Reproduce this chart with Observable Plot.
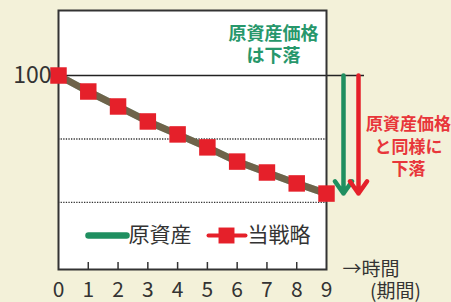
<!DOCTYPE html>
<html><head><meta charset="utf-8">
<script src="https://cdn.jsdelivr.net/npm/d3@7"></script>
<script src="https://cdn.jsdelivr.net/npm/@observablehq/plot@0.6"></script>
<style>
html,body{margin:0;padding:0;background:#f3f1d9;}
#chart svg{display:block}
</style></head><body><div id="chart"></div>
<script>
const periods = [0, 1, 2, 3, 4, 5, 6, 7, 8, 9];
const assetValues = [100, 93.7, 87.8, 81.9, 76.8, 71.7, 66.1, 61.8, 57.5, 53.5];
const strategyValues = [100, 93.7, 87.8, 81.9, 76.8, 71.7, 66.1, 61.8, 57.5, 53.5];
const refLevel = 100;
const gridLevels = [75, 50];
const xTickLabels = ["0", "1", "2", "3", "4", "5", "6", "7", "8", "9"];
const yTickLabels = ["100"];
const legendLabels = ["原資産", "当戦略"];
const assetNote = "原資産価格\nは下落";
const strategyNote = "原資産価格\nと同様に\n下落";
const timeLabel = "→時間";
const periodLabel = "(期間)";

const GREEN = "#1f8f60", RED = "#e5202a", GREEN_TXT = "#27976b", RED_TXT = "#e8363a", INK = "#333";
const FONT = "'Noto Sans CJK JP', 'Noto Sans', sans-serif";
const Y0 = 23.6, Y1 = 125.6;
const PXY = 259 / (Y1 - Y0);   // pixels per y unit
const PXX = 268 / 9;           // pixels per x unit

const asset = periods.map((p, i) => ({x: p, y: assetValues[i]}));
const strategy = periods.map((p, i) => ({x: p, y: strategyValues[i]}));
const lastVal = strategyValues[strategyValues.length - 1];
const legY = refLevel - (235 - 75) / PXY;
const px = (p) => (p - 58) / PXX;   // pixel position -> x data position for annotations
const T = {fontFamily: FONT, lineAnchor: "middle"};

const plot = Plot.plot({
  width: 451, height: 302,
  marginLeft: 58, marginRight: 125, marginTop: 10, marginBottom: 33,
  style: {background: "transparent", fontFamily: FONT, overflow: "visible"},
  x: {domain: [0, 9], axis: null},
  y: {domain: [Y0, Y1], axis: null},
  marks: [
    Plot.frame({fill: "white", stroke: null}),
    Plot.ruleY(gridLevels, {x1: 0, x2: 9, stroke: INK, strokeWidth: 1.3, strokeDasharray: "1.3,1.3"}),
    Plot.ruleY([refLevel], {x1: 0, x2: px(364), stroke: "#222", strokeWidth: 1.6}),
    Plot.ruleX(periods.slice(1, -1), {x: d => d, y1: Y0, y2: Y0 + 7 / PXY, stroke: INK, strokeWidth: 1.5}),
    Plot.frame({stroke: "#333", strokeWidth: 2}),
    Plot.line(asset, {x: "x", y: "y", stroke: GREEN, strokeWidth: 7}),
    Plot.line(strategy, {x: "x", y: "y", stroke: RED, strokeWidth: 7, strokeOpacity: 0.4}),
    Plot.dot(strategy, {x: "x", y: "y", symbol: "square", r: 9.3, fill: RED, stroke: null}),
    // arrows
    Plot.arrow([0], {x1: px(343), x2: px(343), y1: refLevel, y2: lastVal, stroke: GREEN, strokeWidth: 4.5, headLength: 5, headAngle: 70}),
    Plot.arrow([0], {x1: px(358), x2: px(358), y1: refLevel, y2: lastVal, stroke: RED, strokeWidth: 4.5, headLength: 5, headAngle: 70}),
    // notes
    Plot.text([assetNote], {...T, x: px(273), y: refLevel + (75 - 43) / PXY, text: d => d, fill: GREEN_TXT, fontSize: 18, fontWeight: "bold", lineHeight: 1.22}),
    Plot.text([strategyNote], {...T, x: px(408), y: refLevel - (145 - 75) / PXY, text: d => d, fill: RED_TXT, fontSize: 17, fontWeight: "bold", lineHeight: 1.3}),
    // legend
    Plot.line([{x: px(88), y: legY}, {x: px(126), y: legY}], {x: "x", y: "y", stroke: GREEN, strokeWidth: 6.5}),
    Plot.text([legendLabels[0]], {...T, x: px(128), y: legY, text: d => d, textAnchor: "start", fill: INK, fontSize: 21}),
    Plot.line([{x: px(208), y: legY}, {x: px(245), y: legY}], {x: "x", y: "y", stroke: RED, strokeWidth: 4}),
    Plot.dot([{x: px(226), y: legY}], {x: "x", y: "y", symbol: "square", r: 9, fill: RED}),
    Plot.text([legendLabels[1]], {...T, x: px(247), y: legY, text: d => d, textAnchor: "start", fill: INK, fontSize: 21}),
    // axis labels
    Plot.text(periods, {...T, x: d => d, y: Y0, text: (d, i) => xTickLabels[i], dy: 21, fill: INK, fontSize: 21}),
    Plot.text(yTickLabels, {...T, x: 0, y: refLevel, text: d => d, textAnchor: "end", dx: -7, fill: INK, fontSize: 23}),
    Plot.text([timeLabel], {...T, x: px(342), y: Y0, text: d => d, textAnchor: "start", dy: 0, fill: INK, fontSize: 19}),
    Plot.text([periodLabel], {...T, x: px(395), y: Y0, text: d => d, dy: 22, fill: INK, fontSize: 19})
  ]
});
document.getElementById("chart").appendChild(plot);
</script></body></html>
